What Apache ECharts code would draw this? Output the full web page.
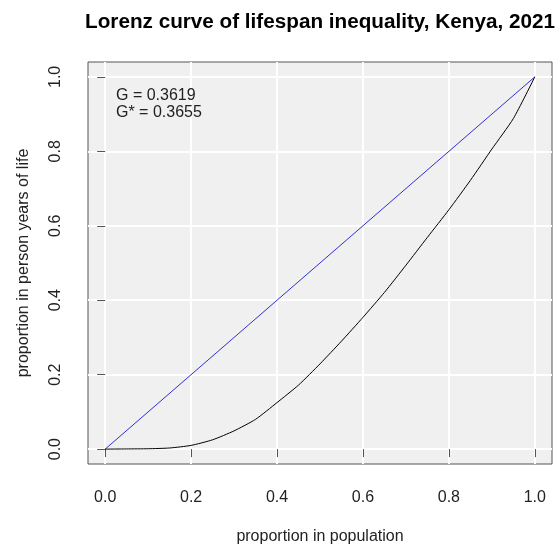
<!DOCTYPE html>
<html>
<head>
<meta charset="utf-8">
<script src="https://cdn.jsdelivr.net/npm/echarts@6/dist/echarts.min.js"></script>
<style>
  html, body { margin: 0; padding: 0; background: #ffffff; }
  #chart { width: 555px; height: 545px; }
</style>
</head>
<body>
<div id="chart"></div>
<script>
// Cumulative share of population (x) and of person-years lived (y)
var populationShare = [0, 0.05, 0.10, 0.15, 0.20, 0.25, 0.30, 0.35, 0.40, 0.45, 0.50,
                       0.55, 0.60, 0.65, 0.70, 0.75, 0.80, 0.85, 0.90, 0.95, 1.00];
var lifeYearsShare  = [0, 0.0005, 0.001, 0.003, 0.010, 0.025, 0.049, 0.080, 0.125, 0.172, 0.229,
                       0.290, 0.354, 0.421, 0.494, 0.569, 0.643, 0.722, 0.806, 0.888, 1.000];
// Line of perfect equality
var equalityX = [0, 1];
var equalityY = [0, 1];
// Gini coefficients shown in the corner
var giniLabels = ['G', 'G*'];
var giniValues = [0.3619, 0.3655];
// Axis tick values
var tickValues = [0, 0.2, 0.4, 0.6, 0.8, 1.0];

var FONT = '"Liberation Sans", Arial, sans-serif';

function pairs(xs, ys) {
  return xs.map(function (x, i) { return [x, ys[i]]; });
}

var giniText = giniLabels.map(function (l, i) {
  return l + ' = ' + giniValues[i].toFixed(4);
}).join('\n');

var chart = echarts.init(document.getElementById('chart'), null, { renderer: 'canvas' });

function axisCommon(name, nameGap) {
  return {
    type: 'value',
    min: -0.04,
    max: 1.04,
    name: name,
    nameLocation: 'middle',
    nameGap: nameGap,
    nameTextStyle: { fontFamily: FONT, fontSize: 16, color: '#222' },
    axisLine: { show: false },
    axisTick: {
      show: true,
      customValues: tickValues,
      length: 8,
      lineStyle: { color: '#555', width: 1 }
    },
    axisLabel: {
      customValues: tickValues,
      fontFamily: FONT,
      fontSize: 16,
      color: '#222',
      formatter: function (v) { return v.toFixed(1); }
    },
    splitLine: { show: true, lineStyle: { color: '#ffffff', width: 2 } }
  };
}

var xAxis = axisCommon('proportion in population', 65);
xAxis.axisLabel.margin = 26;

var yAxis = axisCommon('proportion in person years of life', 56);
yAxis.axisLabel.rotate = 90;
yAxis.axisLabel.margin = 24;

chart.setOption({
  animation: false,
  backgroundColor: '#ffffff',
  title: {
    text: 'Lorenz curve of lifespan inequality, Kenya, 2021',
    left: 320,
    top: 12,
    textAlign: 'center',
    padding: 0,
    textStyle: { fontFamily: FONT, fontSize: 20.7, fontWeight: 'bold', color: '#000' }
  },
  grid: {
    left: 88,
    right: 3,
    top: 62,
    bottom: 81,
    outerBoundsMode: 'none',
    containLabel: false,
    show: true,
    backgroundColor: '#f0f0f0',
    borderColor: '#555',
    borderWidth: 1
  },
  xAxis: xAxis,
  yAxis: yAxis,
  graphic: [{
    type: 'text',
    left: 116,
    top: 87,
    z: 100,
    style: {
      text: giniText,
      fontFamily: FONT,
      fontSize: 16,
      lineHeight: 17,
      fill: '#222'
    }
  }],
  series: [
    {
      type: 'line',
      name: 'equality',
      data: pairs(equalityX, equalityY),
      showSymbol: false,
      symbol: 'none',
      lineStyle: { color: '#3030d0', width: 1 },
      z: 3
    },
    {
      type: 'line',
      name: 'Lorenz curve',
      data: pairs(populationShare, lifeYearsShare),
      showSymbol: false,
      symbol: 'none',
      smooth: 0.2,
      lineStyle: { color: '#000000', width: 1 },
      z: 4
    }
  ]
});
</script>
</body>
</html>
